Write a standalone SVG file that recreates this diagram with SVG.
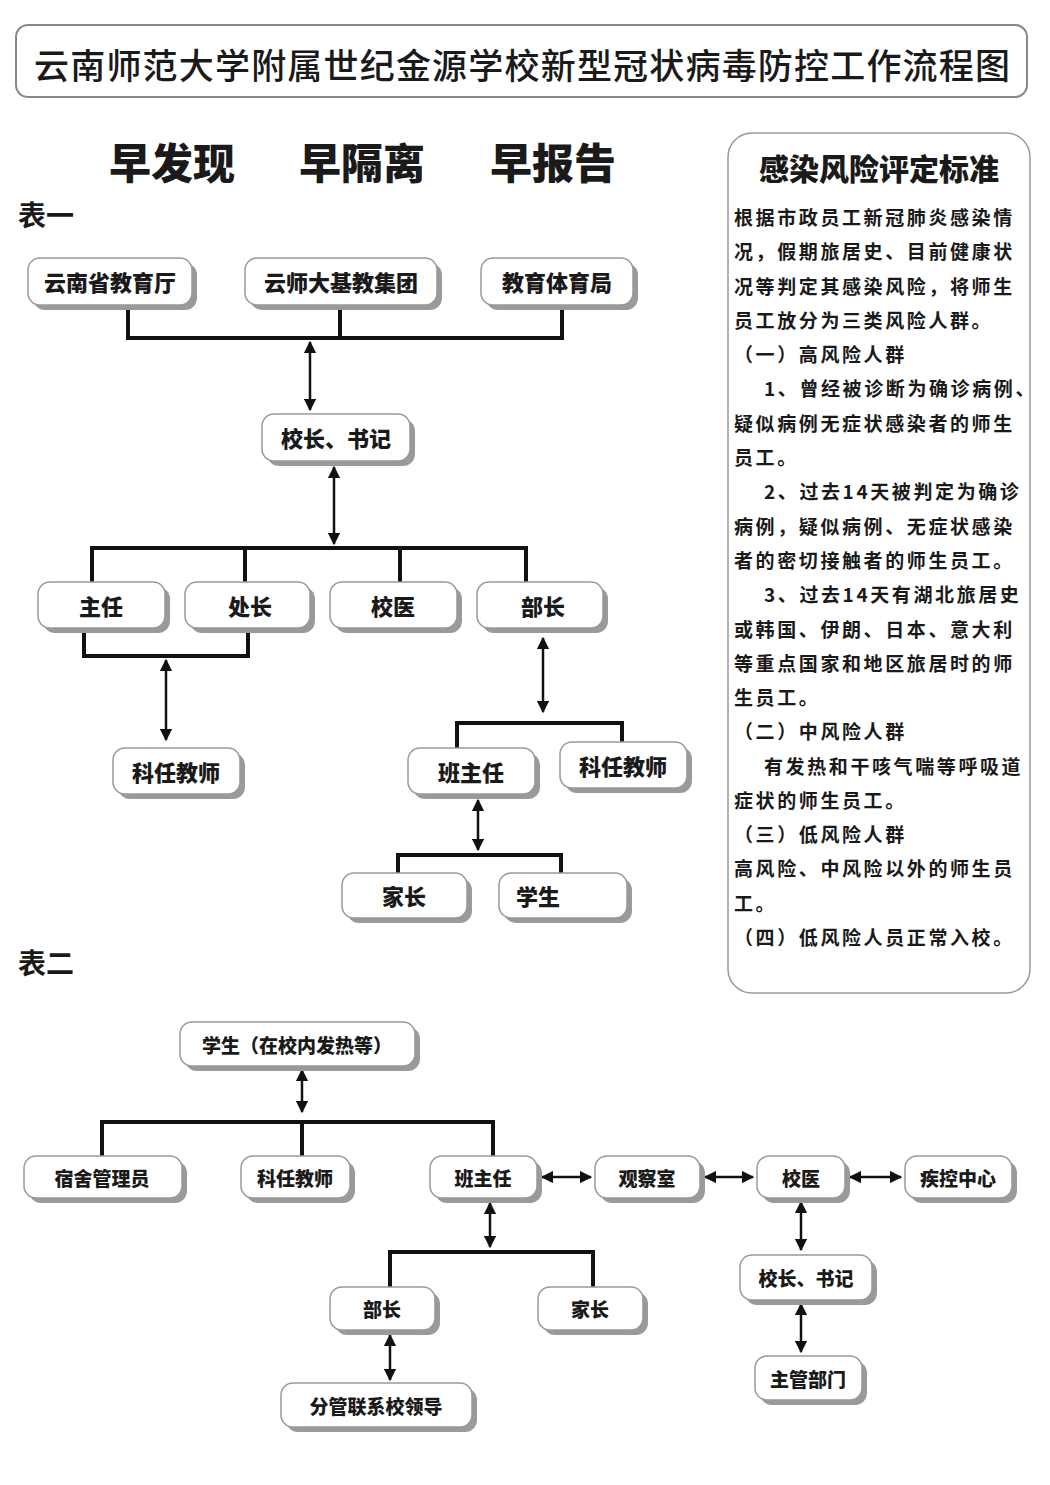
<svg xmlns="http://www.w3.org/2000/svg" width="1050" height="1485" viewBox="0 0 1050 1485">
<defs>
<marker id="ah" viewBox="0 0 10 10" refX="9" refY="5" markerWidth="5" markerHeight="5" orient="auto-start-reverse"><path d="M0,0 L10,5 L0,10 z" fill="#111"/></marker>
</defs>
<style>
text{font-family:"Noto Sans CJK SC","Noto Sans",sans-serif;fill:#1a1a1a}
.box{fill:#fff;stroke:#999;stroke-width:1.5}
.sh{fill:#9a9a9a}
.n1{font-size:22px;font-weight:900;text-anchor:middle;dominant-baseline:central}
.n2{font-size:19px;font-weight:900;text-anchor:middle;dominant-baseline:central}
.ln{fill:none;stroke:#111;stroke-width:4}
.ar{fill:none;stroke:#111;stroke-width:2.5;marker-start:url(#ah);marker-end:url(#ah)}
.pt{font-size:19px;font-weight:700;letter-spacing:2.6px}
.sl{font-size:42px;font-weight:900;text-anchor:middle;dominant-baseline:central}
</style>
<rect width="1050" height="1485" fill="#fff"/>
<g id="title">
<rect x="16" y="25" width="1011" height="72" rx="12" fill="#fff" stroke="#888" stroke-width="2"/>
<text x="34" y="63" font-size="35" dominant-baseline="central" font-weight="500" textLength="976" lengthAdjust="spacing">云南师范大学附属世纪金源学校新型冠状病毒防控工作流程图</text>
</g>
<text class="sl" x="172" y="160">早发现</text>
<text class="sl" x="362" y="160">早隔离</text>
<text class="sl" x="553" y="160">早报告</text>
<text x="18" y="214" font-size="28" font-weight="700" dominant-baseline="central">表一</text>
<text x="18" y="962" font-size="28" font-weight="700" dominant-baseline="central">表二</text>
<g id="panel">
<rect x="728" y="133" width="302" height="860" rx="24" fill="#fff" stroke="#999" stroke-width="1.5"/>
<text x="879" y="167" font-size="30" font-weight="900" text-anchor="middle" dominant-baseline="central">感染风险评定标准</text>
<g class="pt">
<text x="734" y="225">根据市政员工新冠肺炎感染情</text>
<text x="734" y="259">况，假期旅居史、目前健康状</text>
<text x="734" y="294">况等判定其感染风险，将师生</text>
<text x="734" y="328">员工放分为三类风险人群。</text>
<text x="734" y="362">（一）高风险人群</text>
<text x="764" y="396">1、曾经被诊断为确诊病例、</text>
<text x="734" y="431">疑似病例无症状感染者的师生</text>
<text x="734" y="465">员工。</text>
<text x="764" y="499">2、过去14天被判定为确诊</text>
<text x="734" y="534">病例，疑似病例、无症状感染</text>
<text x="734" y="568">者的密切接触者的师生员工。</text>
<text x="764" y="602">3、过去14天有湖北旅居史</text>
<text x="734" y="637">或韩国、伊朗、日本、意大利</text>
<text x="734" y="671">等重点国家和地区旅居时的师</text>
<text x="734" y="705">生员工。</text>
<text x="734" y="739">（二）中风险人群</text>
<text x="764" y="774">有发热和干咳气喘等呼吸道</text>
<text x="734" y="808">症状的师生员工。</text>
<text x="734" y="842">（三）低风险人群</text>
<text x="734" y="876">高风险、中风险以外的师生员</text>
<text x="734" y="911">工。</text>
<text x="734" y="945">（四）低风险人员正常入校。</text>
</g>
</g>
<g id="connectors">
<path class="ln" d="M128,305 V338 H562 V305 M340,305 V338"/>
<line class="ar" x1="310" y1="342" x2="310" y2="410"/>
<line class="ar" x1="334" y1="467" x2="334" y2="544"/>
<path class="ln" d="M92,585 V548 H526 V585 M245,548 V585 M400,548 V585"/>
<path class="ln" d="M84,628 V656 H248 V628"/>
<line class="ar" x1="166" y1="660" x2="166" y2="740"/>
<line class="ar" x1="543" y1="638" x2="543" y2="712"/>
<path class="ln" d="M457,748 V723 H622 V744"/>
<line class="ar" x1="478" y1="800" x2="478" y2="850"/>
<path class="ln" d="M398,873 V855 H561 V873"/>
<line class="ar" x1="302" y1="1070" x2="302" y2="1112"/>
<path class="ln" d="M102,1157 V1122 H493 V1157 M302,1122 V1157"/>
<line class="ar" x1="542" y1="1177" x2="591" y2="1177"/>
<line class="ar" x1="705" y1="1177" x2="753" y2="1177"/>
<line class="ar" x1="850" y1="1177" x2="901" y2="1177"/>
<line class="ar" x1="490" y1="1203" x2="490" y2="1247"/>
<path class="ln" d="M390,1290 V1252 H593 V1290"/>
<line class="ar" x1="390" y1="1335" x2="390" y2="1380"/>
<line class="ar" x1="801" y1="1202" x2="801" y2="1250"/>
<line class="ar" x1="801" y1="1304" x2="801" y2="1352"/>
</g>
<g id="n-jyt"><rect class="sh" x="33" y="263" width="164" height="47" rx="12"/><rect class="box" x="28" y="258" width="164" height="47" rx="12"/><text class="n1" x="110" y="281">云南省教育厅</text></g>
<g id="n-jtjt"><rect class="sh" x="250" y="263" width="192" height="47" rx="12"/><rect class="box" x="245" y="258" width="192" height="47" rx="12"/><text class="n1" x="341" y="281">云师大基教集团</text></g>
<g id="n-jtj"><rect class="sh" x="486" y="263" width="152" height="47" rx="12"/><rect class="box" x="481" y="258" width="152" height="47" rx="12"/><text class="n1" x="557" y="281">教育体育局</text></g>
<g id="n-xz1"><rect class="sh" x="267" y="419" width="148" height="47" rx="12"/><rect class="box" x="262" y="414" width="148" height="47" rx="12"/><text class="n1" x="336" y="437">校长、书记</text></g>
<g id="n-zr"><rect class="sh" x="43" y="587" width="127" height="46" rx="12"/><rect class="box" x="38" y="582" width="127" height="46" rx="12"/><text class="n1" x="101" y="605">主任</text></g>
<g id="n-cz"><rect class="sh" x="190" y="587" width="125" height="46" rx="12"/><rect class="box" x="185" y="582" width="125" height="46" rx="12"/><text class="n1" x="250" y="605">处长</text></g>
<g id="n-xy1"><rect class="sh" x="335" y="587" width="127" height="46" rx="12"/><rect class="box" x="330" y="582" width="127" height="46" rx="12"/><text class="n1" x="393" y="605">校医</text></g>
<g id="n-bz1"><rect class="sh" x="482" y="587" width="126" height="46" rx="12"/><rect class="box" x="477" y="582" width="126" height="46" rx="12"/><text class="n1" x="543" y="605">部长</text></g>
<g id="n-krjs1"><rect class="sh" x="118" y="753" width="127" height="46" rx="12"/><rect class="box" x="113" y="748" width="127" height="46" rx="12"/><text class="n1" x="176" y="771">科任教师</text></g>
<g id="n-bzr1"><rect class="sh" x="413" y="753" width="127" height="46" rx="12"/><rect class="box" x="408" y="748" width="127" height="46" rx="12"/><text class="n1" x="471" y="771">班主任</text></g>
<g id="n-krjs2"><rect class="sh" x="565" y="747" width="127" height="46" rx="12"/><rect class="box" x="560" y="742" width="127" height="46" rx="12"/><text class="n1" x="623" y="765">科任教师</text></g>
<g id="n-jz1"><rect class="sh" x="347" y="878" width="125" height="45" rx="12"/><rect class="box" x="342" y="873" width="125" height="45" rx="12"/><text class="n1" x="404" y="895">家长</text></g>
<g id="n-xs1"><rect class="sh" x="504" y="878" width="128" height="45" rx="12"/><rect class="box" x="499" y="873" width="128" height="45" rx="12"/><text class="n1" x="538" y="895">学生</text></g>
<g id="n-xs2"><rect class="sh" x="185" y="1027" width="235" height="44" rx="12"/><rect class="box" x="180" y="1022" width="235" height="44" rx="12"/><text class="n2" x="297" y="1044">学生（在校内发热等）</text></g>
<g id="n-ssgl"><rect class="sh" x="29" y="1161" width="158" height="42" rx="12"/><rect class="box" x="24" y="1156" width="158" height="42" rx="12"/><text class="n2" x="102" y="1177">宿舍管理员</text></g>
<g id="n-krjs3"><rect class="sh" x="246" y="1161" width="109" height="42" rx="12"/><rect class="box" x="241" y="1156" width="109" height="42" rx="12"/><text class="n2" x="295" y="1177">科任教师</text></g>
<g id="n-bzr2"><rect class="sh" x="435" y="1161" width="107" height="42" rx="12"/><rect class="box" x="430" y="1156" width="107" height="42" rx="12"/><text class="n2" x="483" y="1177">班主任</text></g>
<g id="n-gcs"><rect class="sh" x="600" y="1161" width="105" height="42" rx="12"/><rect class="box" x="595" y="1156" width="105" height="42" rx="12"/><text class="n2" x="647" y="1177">观察室</text></g>
<g id="n-xy2"><rect class="sh" x="762" y="1161" width="88" height="42" rx="12"/><rect class="box" x="757" y="1156" width="88" height="42" rx="12"/><text class="n2" x="801" y="1177">校医</text></g>
<g id="n-jkzx"><rect class="sh" x="910" y="1161" width="107" height="42" rx="12"/><rect class="box" x="905" y="1156" width="107" height="42" rx="12"/><text class="n2" x="958" y="1177">疾控中心</text></g>
<g id="n-bz2"><rect class="sh" x="335" y="1292" width="105" height="43" rx="12"/><rect class="box" x="330" y="1287" width="105" height="43" rx="12"/><text class="n2" x="382" y="1308">部长</text></g>
<g id="n-jz2"><rect class="sh" x="543" y="1292" width="105" height="43" rx="12"/><rect class="box" x="538" y="1287" width="105" height="43" rx="12"/><text class="n2" x="590" y="1308">家长</text></g>
<g id="n-fgld"><rect class="sh" x="286" y="1388" width="191" height="44" rx="12"/><rect class="box" x="281" y="1383" width="191" height="44" rx="12"/><text class="n2" x="376" y="1405">分管联系校领导</text></g>
<g id="n-xz2"><rect class="sh" x="745" y="1260" width="132" height="45" rx="12"/><rect class="box" x="740" y="1255" width="132" height="45" rx="12"/><text class="n2" x="806" y="1277">校长、书记</text></g>
<g id="n-zgbm"><rect class="sh" x="760" y="1361" width="107" height="44" rx="12"/><rect class="box" x="755" y="1356" width="107" height="44" rx="12"/><text class="n2" x="808" y="1378">主管部门</text></g>
</svg>
